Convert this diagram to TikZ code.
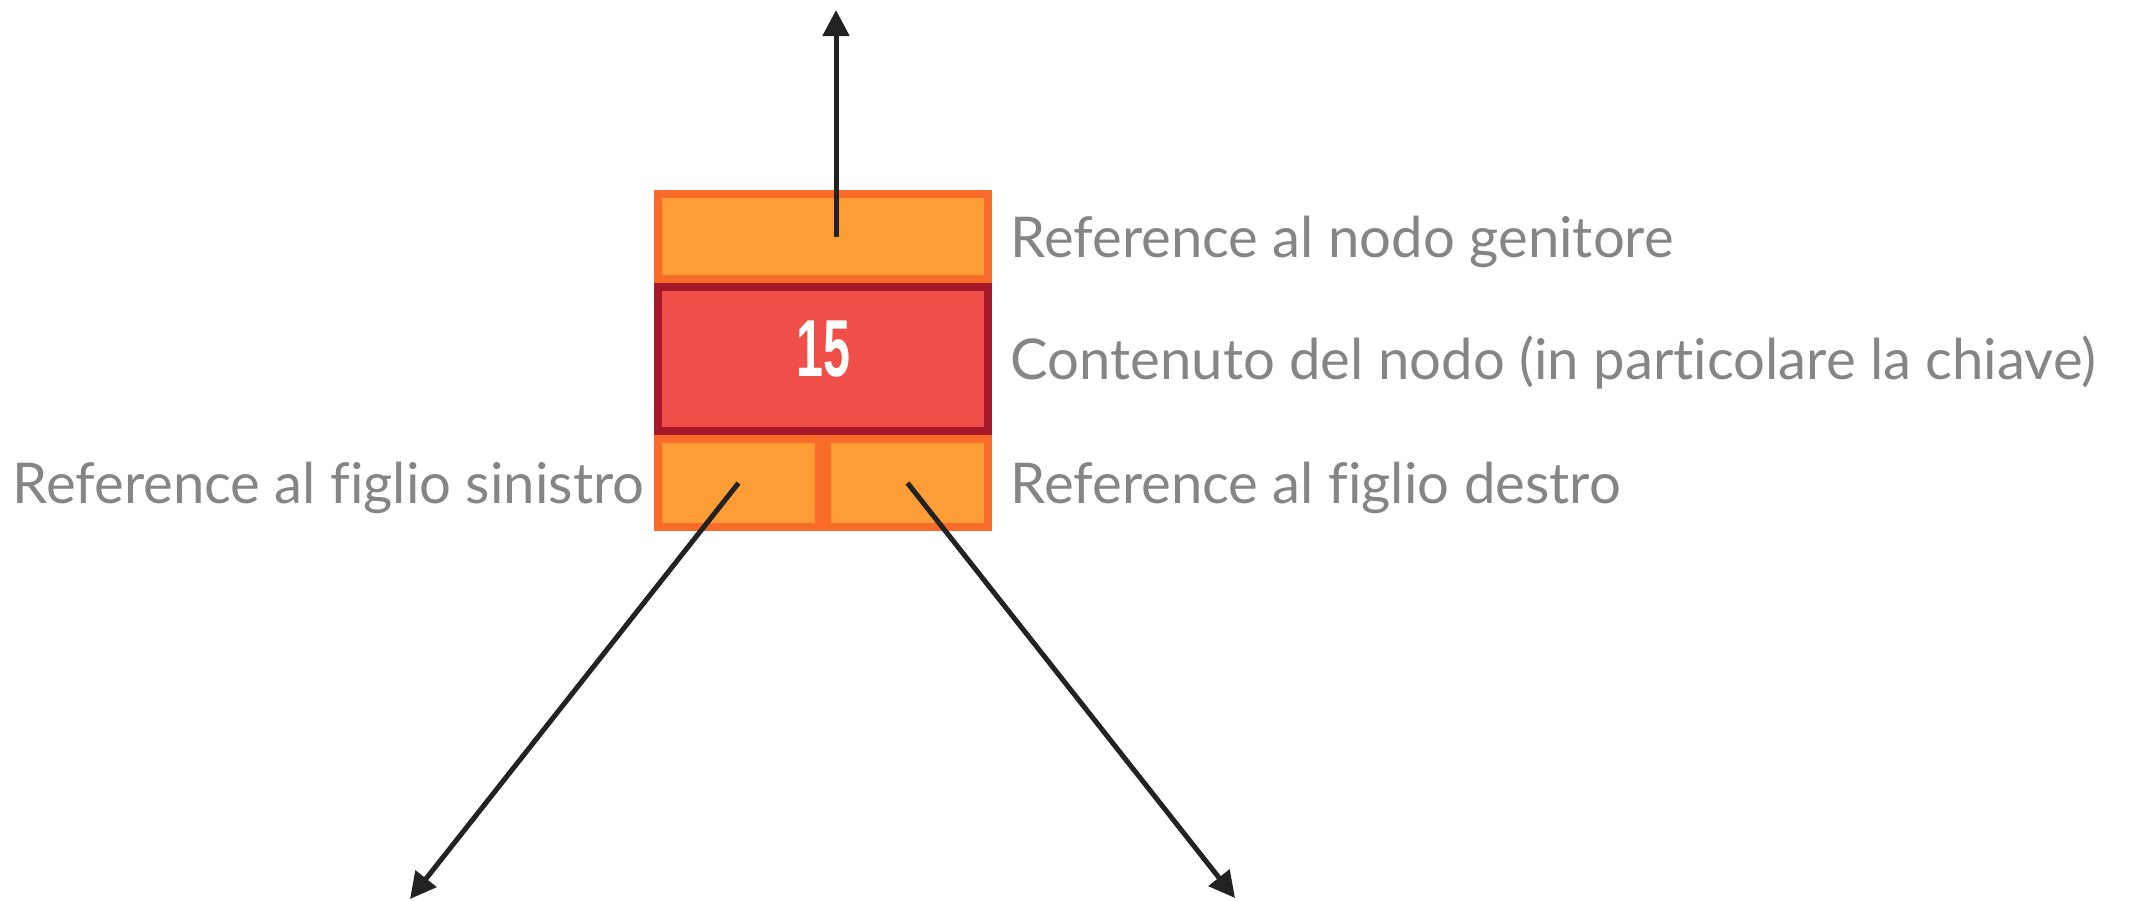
\documentclass[tikz,border=0pt]{standalone}
\usepackage{fontspec}
\setmainfont[Ligatures=CommonOff]{Lato}
\newfontfamily\keyfont[FakeStretch=0.6]{Liberation Sans Bold}
\usetikzlibrary{arrows.meta}
\definecolor{cellfill}{HTML}{FE9C35}
\definecolor{celledge}{HTML}{F96B29}
\definecolor{keyfill}{HTML}{EF4F48}
\definecolor{keyedge}{HTML}{A8182B}
\definecolor{notegray}{HTML}{858585}
\definecolor{linkdark}{HTML}{222222}
\begin{document}
\begin{tikzpicture}[
    cell/.style={draw=celledge,fill=cellfill,line width=0.08cm,inner sep=0pt,minimum width=3.30cm,minimum height=0.85cm},
    half/.style={cell,minimum width=1.61cm,minimum height=0.88cm},
    keycell/.style={draw=keyedge,fill=keyfill,line width=0.08cm,inner sep=0pt,minimum width=3.30cm,minimum height=1.44cm,text=white,text depth=0.2cm,font=\fontsize{23pt}{26pt}\keyfont},
    note/.style={text=notegray,inner sep=0pt,font=\fontsize{16pt}{19pt}\selectfont},
    link/.style={draw=linkdark,line width=0.05cm,-{Triangle[width=0.26cm,length=0.26cm]}}
]
\useasboundingbox (0,0) rectangle (21.37,-9);
% cells of the node
\node[cell] (parentref) at (8.23,-2.365) {};
\node[half] (leftref) at (7.385,-4.83) {};
\node[half] (rightref) at (9.075,-4.83) {};
\node[keycell] (key) at (8.23,-3.59) {15};
% labels
\node[note,anchor=base west] (parentnote) at (10.10,-2.57) {Reference al nodo genitore};
\node[note,anchor=base west] (keynote) at (10.10,-3.79) {Contenuto del nodo (in particolare la chiave)};
\node[note,anchor=base east] (leftnote) at (6.45,-5.03) {Reference al figlio sinistro};
\node[note,anchor=base west] (rightnote) at (10.10,-5.03) {Reference al figlio destro};
% references
\coordinate (parentstart) at (8.36,-2.37);
\coordinate (parent) at (8.36,-0.10);
\coordinate (leftchild) at (4.10,-8.99);
\coordinate (rightchild) at (12.35,-8.98);
\draw[link] (parentstart) -- (parent);
\draw[link] (leftref.center) -- (leftchild);
\draw[link] (rightref.center) -- (rightchild);
\end{tikzpicture}
\end{document}
